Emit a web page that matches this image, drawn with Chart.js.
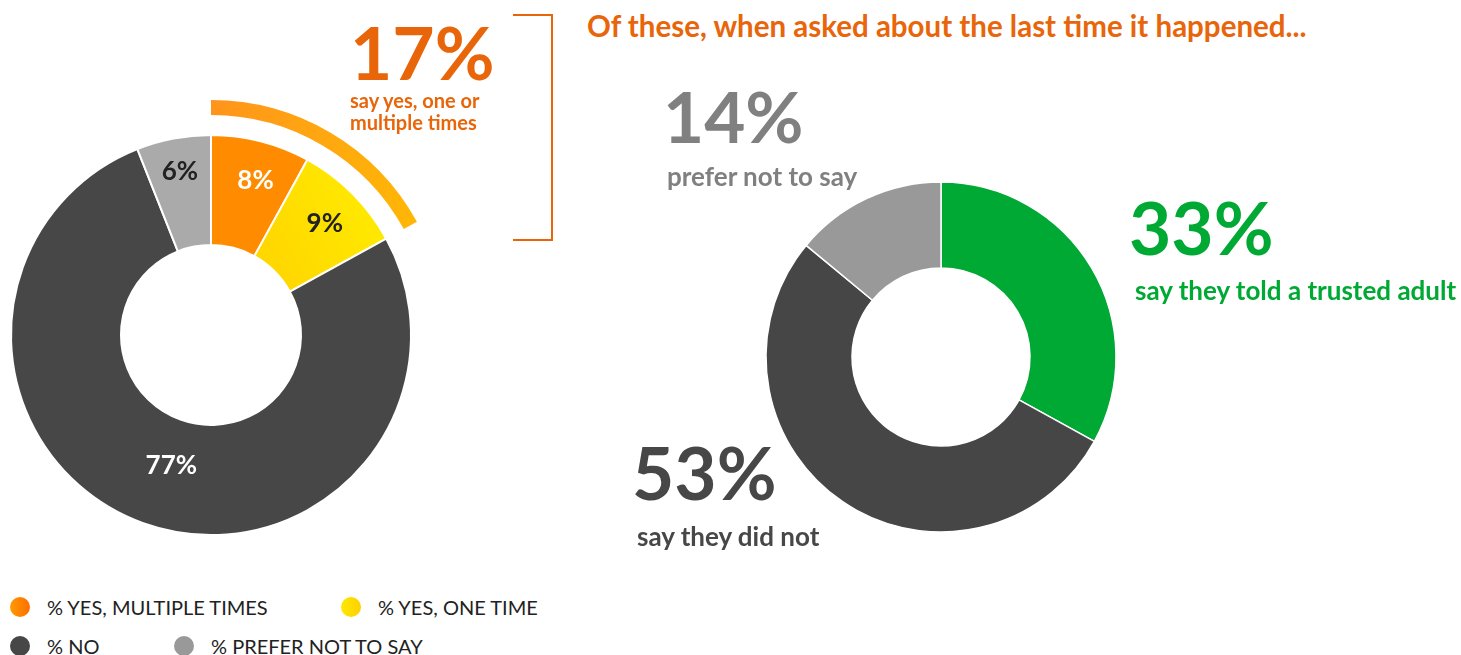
<!DOCTYPE html>
<html>
<head>
<meta charset="utf-8">
<script src="https://cdn.jsdelivr.net/npm/chart.js@4.4.1/dist/chart.umd.min.js"></script>
<style>
  body { margin: 0; width: 1461px; height: 655px; overflow: hidden; background: #fff; position: relative; font-family: Lato, 'Open Sans', sans-serif; }
  canvas { position: absolute; z-index: 1; }
  .txt { position: absolute; font-weight: 700; line-height: 1; white-space: nowrap; z-index: 2; }
  .bracket { position: absolute; left: 513px; top: 14px; width: 38px; height: 223px; border: 2px solid #e8650a; border-left: none; z-index: 2; }
  .legend-item { position: absolute; font-size: 20px; color: #222; line-height: 1; white-space: nowrap; }
  .legend-item span.dot { position: absolute; width: 20px; height: 20px; border-radius: 50%; left: -37px; top: 0px; }
</style>
</head>
<body>
<canvas id="reported" width="500" height="500" style="left:-39px; top:85px"></canvas>
<canvas id="told" width="400" height="400" style="left:741px; top:157px"></canvas>
<div class="bracket"></div>
<div id="notes"></div>
<script>
// survey answers (left doughnut)
const reportCategories = ['% YES, MULTIPLE TIMES', '% YES, ONE TIME', '% NO', '% PREFER NOT TO SAY']
const reportValues = [8, 9, 77, 6]

// of those who said yes (right doughnut)
const toldCategories = ['say they told a trusted adult', 'say they did not', 'prefer not to say']
const toldValues = [33, 53, 14]

const titleText = 'Of these, when asked about the last time it happened...'
const yesCaption = ['say yes, one or', 'multiple times']

const ORANGE = '#e8650a'

function gradient(chart, x0, y0, x1, y1, c0, c1) {
  const area = chart.chartArea
  if (!area) return c0
  const cx = (area.left + area.right) / 2
  const cy = (area.top + area.bottom) / 2
  const g = chart.ctx.createLinearGradient(cx + x0, cy + y0, cx + x1, cy + y1)
  g.addColorStop(0, c0)
  g.addColorStop(1, c1)
  return g
}

// draws the % values inside the slices
const sliceLabels = {
  id: 'sliceLabels',
  afterDatasetsDraw(chart, args, opts) {
    if (!opts || opts.datasetIndex === undefined) return
    const meta = chart.getDatasetMeta(opts.datasetIndex)
    const data = chart.data.datasets[opts.datasetIndex].data
    const ctx = chart.ctx
    ctx.save()
    ctx.font = 'bold 26px Lato, sans-serif'
    ctx.textAlign = 'center'
    ctx.textBaseline = 'middle'
    meta.data.forEach((arc, i) => {
      const p = arc.getProps(['x', 'y', 'startAngle', 'endAngle', 'innerRadius', 'outerRadius'], true)
      const mid = (p.startAngle + p.endAngle) / 2 + opts.shift[i]
      const r = p.innerRadius + opts.fractions[i] * (p.outerRadius - p.innerRadius)
      ctx.fillStyle = opts.colors[i]
      ctx.fillText(data[i] + '%', p.x + Math.cos(mid) * r, p.y + Math.sin(mid) * r)
    })
    ctx.restore()
  }
}

const yesTotal = reportValues[0] + reportValues[1]
const mainColors = ['#ff8c00', null, '#474747', '#aaaaaa']

new Chart(document.getElementById('reported'), {
  type: 'doughnut',
  data: {
    labels: reportCategories,
    datasets: [
      {
        // outer highlight arc around the "yes" answers
        data: [yesTotal, 100 - yesTotal],
        backgroundColor: (c) =>
          c.dataIndex === 0 ? gradient(c.chart, 0, 0, 200, 0, '#ff941c', '#ffb606') : 'rgba(0,0,0,0)',
        borderWidth: 0,
        weight: 15
      },
      {
        data: [100],
        backgroundColor: 'rgba(0,0,0,0)',
        borderWidth: 0,
        weight: 20
      },
      {
        data: reportValues,
        backgroundColor: (c) =>
          c.dataIndex === 1
            ? gradient(c.chart, 60, -90, 170, -150, '#ffd800', '#ffec00')
            : mainColors[c.dataIndex],
        borderColor: '#ffffff',
        borderWidth: 2,
        weight: 110
      }
    ]
  },
  options: {
    responsive: false,
    animation: false,
    events: [],
    radius: 235,
    cutout: (90 / 235 * 100) + '%',
    plugins: {
      legend: { display: false },
      tooltip: { enabled: false },
      sliceLabels: {
        datasetIndex: 2,
        fractions: [0.64, 0.63, 0.42, 0.69],
        shift: [0.03, 0.01, -0.05, 0],
        colors: ['#ffffff', '#222222', '#ffffff', '#222222']
      }
    }
  },
  plugins: [sliceLabels]
})

new Chart(document.getElementById('told'), {
  type: 'doughnut',
  data: {
    labels: toldCategories,
    datasets: [
      {
        data: toldValues,
        backgroundColor: ['#00a834', '#464646', '#999999'],
        borderColor: '#ffffff',
        borderWidth: 1.5
      }
    ]
  },
  options: {
    responsive: false,
    animation: false,
    events: [],
    radius: 175,
    cutout: (89 / 175 * 100) + '%',
    plugins: {
      legend: { display: false },
      tooltip: { enabled: false }
    }
  }
})

// text notes
const notes = document.getElementById('notes')
function addText(text, left, top, size, color, extra) {
  const d = document.createElement('div')
  d.className = 'txt'
  d.textContent = text
  d.style.left = left + 'px'
  d.style.top = top + 'px'
  d.style.fontSize = size + 'px'
  d.style.color = color
  if (extra) Object.assign(d.style, extra)
  notes.appendChild(d)
}

addText(titleText, 587, 11, 29.5, ORANGE)
addText(yesTotal + '%', 350, 16, 73, ORANGE)
addText(yesCaption[0], 350, 89, 20, ORANGE, { lineHeight: '22px' })
addText(yesCaption[1], 350, 110.5, 20, ORANGE, { lineHeight: '22px' })

addText(toldValues[2] + '%', 663, 80, 71, '#808080')
addText(toldCategories[2], 667, 163, 26, '#808080')
addText(toldValues[0] + '%', 1129, 191, 73, '#00a834')
addText(toldCategories[0], 1135, 277, 26, '#00a834')
addText(toldValues[1] + '%', 632, 436, 73, '#474747')
addText(toldCategories[1], 637, 523, 26, '#474747')

// legend
const legendColors = [
  'linear-gradient(90deg, #ff9a00, #ff6e00)',
  'linear-gradient(90deg, #ffe800, #ffd000)',
  '#474747',
  '#999999'
]
const legendSpots = [[47, 597], [378, 597], [47, 636], [211, 636]]
reportCategories.forEach((name, i) => {
  const item = document.createElement('div')
  item.className = 'legend-item'
  item.style.left = legendSpots[i][0] + 'px'
  item.style.top = legendSpots[i][1] + 'px'
  const dot = document.createElement('span')
  dot.className = 'dot'
  dot.style.background = legendColors[i]
  item.appendChild(dot)
  item.appendChild(document.createTextNode(name))
  document.body.appendChild(item)
})
</script>
</body>
</html>
